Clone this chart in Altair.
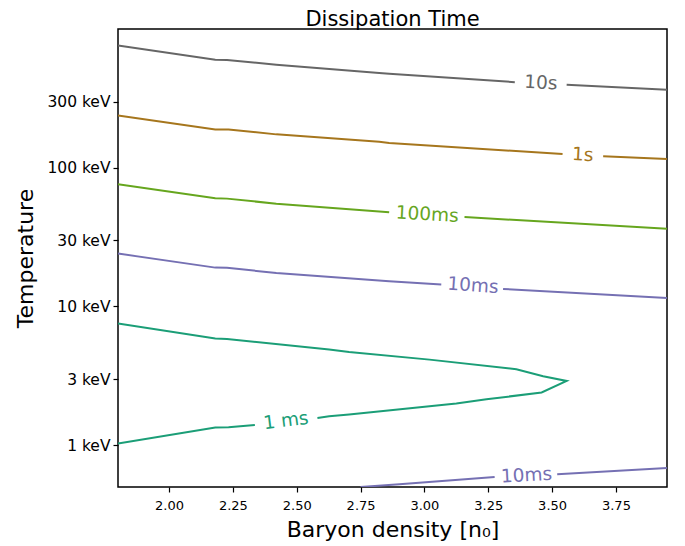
import altair as alt
import pandas as pd

# ---- data (x: baryon density [n0], y: temperature [keV]) ----
levels = ["1 ms", "10ms", "100ms", "1s", "10s"]
level_colors = ["#1b9e77", "#7570b3", "#66a61e", "#a6761d", "#666666"]

# 10 s contour (two pieces, gap for label)
c10s_a_x = [1.8, 2.181, 2.227, 2.42, 2.823, 2.862, 3.354]
c10s_a_y = [762, 601, 597, 553, 481, 476, 414]
c10s_b_x = [3.557, 3.95]
c10s_b_y = [397, 365]

# 1 s contour
c1s_a_x = [1.8, 2.181, 2.233, 2.42, 2.823, 2.862, 3.541]
c1s_a_y = [238, 189, 189, 174, 154, 151, 125.5]
c1s_b_x = [3.70, 3.95]
c1s_b_y = [120.8, 115.5]

# 100 ms contour
c100ms_a_x = [1.8, 2.181, 2.227, 2.42, 2.862]
c100ms_a_y = [75.9, 60.2, 59.9, 55.1, 47.7]
c100ms_b_x = [3.157, 3.95]
c100ms_b_y = [44.1, 36.4]

# 10 ms contour (upper)
c10ms_a_x = [1.8, 2.181, 2.227, 2.42, 2.862, 3.066]
c10ms_a_y = [24.05, 19.06, 19.0, 17.43, 15.19, 14.38]
c10ms_b_x = [3.308, 3.95]
c10ms_b_y = [13.37, 11.52]

# 1 ms contour (closed-ish tongue)
c1ms_a_x = [1.8, 2.181, 2.227, 2.627, 2.705, 3.020, 3.360, 3.465, 3.557,
            3.459, 3.243, 3.125, 2.705, 2.627, 2.581]
c1ms_a_y = [7.53, 5.87, 5.83, 4.89, 4.70, 4.14, 3.53, 3.14, 2.906,
            2.398, 2.145, 1.997, 1.664, 1.618, 1.573]
c1ms_b_x = [2.336, 2.233, 2.181, 1.8]
c1ms_b_y = [1.400, 1.348, 1.341, 1.028]

# 10 ms contour (lower)
c10ms_low_a_x = [2.75, 2.902, 3.275]
c10ms_low_a_y = [0.5, 0.524, 0.591]
c10ms_low_b_x = [3.52, 3.95]
c10ms_low_b_y = [0.618, 0.686]

# contour labels
label_text = ["10s", "1s", "100ms", "10ms", "1 ms", "10ms"]
label_level = ["10s", "1s", "100ms", "10ms", "1 ms", "10ms"]
label_x = [3.456, 3.62, 3.011, 3.19, 2.4575, 3.40]
label_y = [410, 124.3, 46.2, 14.21, 1.507, 0.608]
label_angles = [3, 3, 3, 4, 353, 357]

x_ticks = [2.0, 2.25, 2.5, 2.75, 3.0, 3.25, 3.5, 3.75]
y_ticks = [1, 3, 10, 30, 100, 300]

# ---- build tables ----
segments = [
    ("10s", "10s_a", c10s_a_x, c10s_a_y), ("10s", "10s_b", c10s_b_x, c10s_b_y),
    ("1s", "1s_a", c1s_a_x, c1s_a_y), ("1s", "1s_b", c1s_b_x, c1s_b_y),
    ("100ms", "100ms_a", c100ms_a_x, c100ms_a_y), ("100ms", "100ms_b", c100ms_b_x, c100ms_b_y),
    ("10ms", "10ms_a", c10ms_a_x, c10ms_a_y), ("10ms", "10ms_b", c10ms_b_x, c10ms_b_y),
    ("1 ms", "1ms_a", c1ms_a_x, c1ms_a_y), ("1 ms", "1ms_b", c1ms_b_x, c1ms_b_y),
    ("10ms", "10msl_a", c10ms_low_a_x, c10ms_low_a_y), ("10ms", "10msl_b", c10ms_low_b_x, c10ms_low_b_y),
]
rows = []
for lev, seg, xs, ys in segments:
    for i, (xv, yv) in enumerate(zip(xs, ys)):
        rows.append({"level": lev, "seg": seg, "i": i, "x": xv, "y": yv})
lines_df = pd.DataFrame(rows)

labels_df = pd.DataFrame({"text": label_text, "level": label_level,
                          "x": label_x, "y": label_y, "angle": label_angles})

FONT = "DejaVu Sans"
color = alt.Color("level:N", scale=alt.Scale(domain=levels, range=level_colors), legend=None)

xenc = alt.X("x:Q", scale=alt.Scale(domain=[1.8, 3.95], nice=False, zero=False),
             axis=alt.Axis(values=x_ticks, format=".2f", title="Baryon density [n\u2080]",
                           labelFontSize=13, titleFontSize=22, titlePadding=7,
                           labelPadding=7))
yenc = alt.Y("y:Q", scale=alt.Scale(type="log", domain=[0.5, 1000], nice=False),
             axis=alt.Axis(values=y_ticks, labelExpr="datum.value + ' keV'", title="Temperature",
                           labelFontSize=15.5, titleFontSize=22, titlePadding=9,
                           labelPadding=3))

lines = alt.Chart(lines_df).mark_line(strokeWidth=2, clip=True).encode(
    x=xenc, y=yenc, color=color, detail="seg:N", order="i:Q"
)

texts = alt.Chart(labels_df).mark_text(font=FONT, fontSize=18.5, align="center",
                                       baseline="middle").encode(
    x="x:Q", y="y:Q", text="text:N", color=color,
    angle=alt.Angle("angle:Q", scale=None)
)

chart = alt.layer(lines, texts).properties(
    width=549, height=458,
    padding={"left": 110, "top": 21, "right": 10, "bottom": 59},
    autosize=alt.AutoSizeParams(type="none"),
    title=alt.TitleParams("Dissipation Time", font=FONT, fontSize=21, fontWeight="normal",
                          color="black", anchor="middle", offset=-1),
).configure(
    background="white"
).configure_view(
    stroke="black", strokeWidth=1.5
).configure_axis(
    grid=False, domain=False, tickColor="black", tickSize=5, tickWidth=1.2,
    labelColor="black", titleColor="black", labelFont=FONT, titleFont=FONT,
    titleFontWeight="normal"
)

chart.save("out.html", embed_options={"renderer": "svg", "actions": False})
